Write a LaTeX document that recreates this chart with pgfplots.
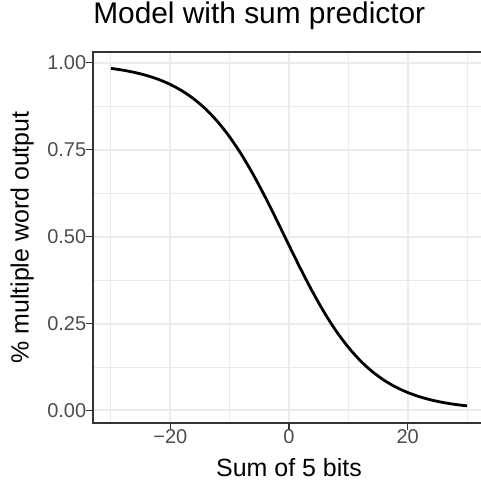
\documentclass[border=0pt]{standalone}
\usepackage{pgfplots}
\pgfplotsset{compat=1.18}
\usepackage{fontspec}
\setmainfont{Liberation Sans}
\definecolor{gridc}{HTML}{EBEBEB}
\definecolor{bordc}{HTML}{333333}
\definecolor{tickc}{HTML}{4D4D4D}

\begin{document}
\begin{tikzpicture}
\begin{axis}[
    scale only axis,
    width=294pt, height=278.25pt,
    xmin=-33.03, xmax=33.03,
    ymin=-0.036, ymax=1.031,
    xtick={-20,0,20},
    xticklabels={−20,0,20},
    minor xtick={-30,-10,10,30},
    ytick={0,0.25,0.5,0.75,1},
    yticklabels={0.00,0.25,0.50,0.75,1.00},
    minor ytick={0.125,0.375,0.625,0.875},
    grid=both,
    major grid style={gridc, line width=1.5pt},
    minor grid style={gridc, line width=0.75pt},
    tick align=outside,
    major tick length=4.9pt,
    minor tick length=0pt,
    xtick pos=bottom, ytick pos=left,
    tick style={bordc, line width=0.9pt},
    axis line style={bordc, line width=0.9pt},
    ticklabel style={font=\fontsize{15}{18}\selectfont, text=tickc, inner sep=0pt},
    xticklabel style={anchor=north},
    yticklabel style={anchor=east},
    title={Model with sum predictor},
    title style={at={(rel axis cs:0,1)}, anchor=base west, yshift=15pt,
        inner sep=0pt, font=\fontsize{22.4}{26}\selectfont},
    xlabel={Sum of 5 bits},
    xlabel style={at={(axis description cs:0.5,0)}, anchor=base, yshift=-39.75pt,
        inner sep=0pt, font=\fontsize{18.7}{22}\selectfont},
    ylabel={\% multiple word output},
    ylabel style={at={(axis description cs:0,0.5)}, anchor=base, yshift=48.2pt,
        inner sep=0pt, font=\fontsize{18.7}{22}\selectfont},
]
\addplot[black, line width=2.1pt, smooth] coordinates {
    (-30,0.9839)(-28,0.9788)(-26,0.9721)(-24,0.9634)(-22,0.9522)
    (-20,0.9376)(-18,0.9190)(-16,0.8955)(-14,0.8661)(-12,0.8300)
    (-10,0.7867)(-8,0.7357)(-6,0.6776)(-4,0.6135)(-2,0.5451)
    (0,0.4750)(2,0.4058)(4,0.3403)(6,0.2803)(8,0.2272)
    (10,0.1817)(12,0.1436)(14,0.1123)(16,0.0872)(18,0.0673)
    (20,0.0517)(22,0.0395)(24,0.0301)(26,0.0229)(28,0.0174)(30,0.0132)
};
\coordinate (bl) at (rel axis cs:0,0);
\coordinate (tr) at (rel axis cs:1,1);
\end{axis}
\pgfresetboundingbox
\path ([shift={(-69.75pt,-43.5pt)}]bl) rectangle ([shift={(-3.75pt,39pt)}]tr);
\end{tikzpicture}
\end{document}
